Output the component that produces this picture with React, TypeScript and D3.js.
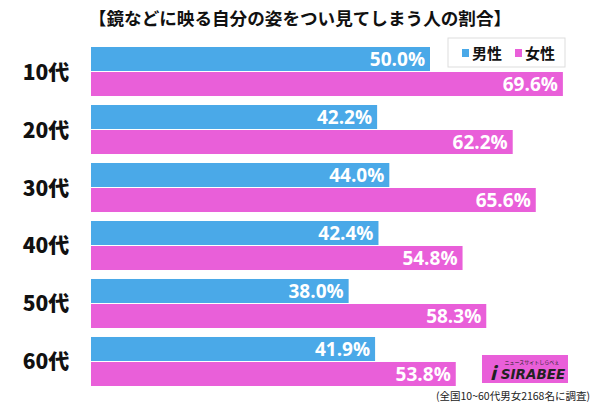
import React from "react";
import * as d3 from "d3";

const categories = ["10代", "20代", "30代", "40代", "50代", "60代"];
const maleValues = [50.0, 42.2, 44.0, 42.4, 38.0, 41.9];
const femaleValues = [69.6, 62.2, 65.6, 54.8, 58.3, 53.8];
const seriesNames = ["男性", "女性"];
const title = "【鏡などに映る自分の姿をつい見てしまう人の割合】";
const note = "(全国10~60代男女2168名に調査)";

const W = 600;
const H = 406;
const BLUE = "#4aa9e8";
const PINK = "#e95fd9";
const FONT = "'Noto Sans CJK JP', 'Noto Sans', sans-serif";

export default function App() {
  const x = d3.scaleLinear().domain([0, 100]).range([91, 91 + 678]);
  const y = d3.scaleBand().domain(categories).range([47, 386]).paddingInner(0.155).paddingOuter(0);
  const bh = y.bandwidth() / 2;
  return (
    <svg width={W} height={H} style={{ position: "absolute", left: 0, top: 0, background: "#fff" }} fontFamily={FONT}>
      <rect width={W} height={H} fill="#fff" />
      <text x={300} y={24.5} textAnchor="middle" fontSize={17.6} fontWeight="bold" fill="#111">{title}</text>
      {categories.map((c, i) => {
        const y0 = y(c)!;
        return (
          <g key={c}>
            <text x={46} y={y0 + bh + 8} textAnchor="middle" fontSize={21} fontWeight="900" fill="#111">{c}</text>
            <rect x={x(0)} y={y0} width={x(maleValues[i]) - x(0)} height={bh - 0.5} fill={BLUE} />
            <rect x={x(0)} y={y0 + bh + 0.5} width={x(femaleValues[i]) - x(0)} height={bh - 0.5} fill={PINK} />
            <text x={x(maleValues[i]) - 5} y={y0 + bh / 2 + 7} textAnchor="end" fontSize={19} fontWeight="bold" fill="#fff" fontFamily="'Open Sans', sans-serif">{maleValues[i].toFixed(1)}%</text>
            <text x={x(femaleValues[i]) - 5} y={y0 + bh * 1.5 + 7} textAnchor="end" fontSize={19} fontWeight="bold" fill="#fff" fontFamily="'Open Sans', sans-serif">{femaleValues[i].toFixed(1)}%</text>
          </g>
        );
      })}
      <g>
        <rect x={448} y={38} width={117} height={29} fill="#fff" stroke="#ddd" />
        <rect x={462} y={49} width={7} height={8} fill={BLUE} />
        <text x={472} y={59} fontSize={15} fontWeight="bold" fill="#111">{seriesNames[0]}</text>
        <rect x={515} y={49} width={7} height={8} fill={PINK} />
        <text x={525} y={59} fontSize={15} fontWeight="bold" fill="#111">{seriesNames[1]}</text>
      </g>
      <g>
        <rect x={482} y={355} width={86} height={28} fill={PINK} />
        <text x={532} y={364} textAnchor="middle" fontSize={5} fill="#222">ニュースサイトしらべぇ</text>
        <text x={493} y={380} textAnchor="middle" fontSize={18} fontWeight="900" fill="#222" fontStyle="italic">i</text>
        <text x={533} y={379} textAnchor="middle" fontSize={13.5} fontWeight="900" fill="#222" fontStyle="italic" fontFamily="'DejaVu Sans', sans-serif">SIRABEE</text>
      </g>
      <text x={590} y={400} textAnchor="end" fontSize={10.5} fill="#222">{note}</text>
    </svg>
  );
}
